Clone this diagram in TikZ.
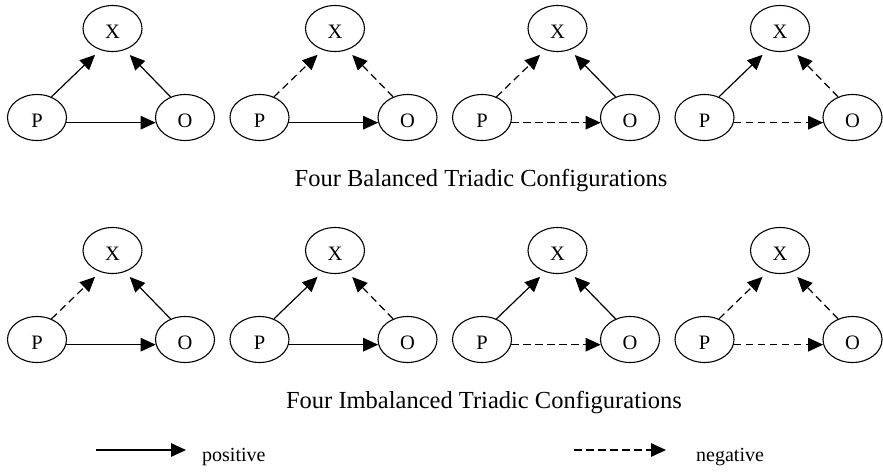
\documentclass[tikz,border=0pt]{standalone}
\usepackage{fontspec}
\setmainfont{Liberation Serif}
\usetikzlibrary{arrows.meta,shapes.geometric}
\tikzset{
  vert/.style={draw, ellipse, line width=1.1pt, minimum width=59pt, minimum height=46pt,
    inner sep=0pt, font=\fontsize{20.5}{20.5}\selectfont, text height=19.5pt, text depth=0pt},
  posline/.style={line width=1.2pt, -{Triangle[length=15pt,width=13.5pt]}},
  negline/.style={posline, dash pattern=on 7.5pt off 4.5pt},
  captext/.style={anchor=base, inner sep=0pt, font=\fontsize{24.5}{24.5}\selectfont},
  legtext/.style={anchor=base west, inner sep=0pt, font=\fontsize{20}{20}\selectfont}
}
\newcommand\mytriad[6]{%
  \node[vert] (#1X) at (#2+75.5, #3+28.5) {X};
  \node[vert] (#1P) at (#2, #3+117.5) {P};
  \node[vert] (#1O) at (#2+148, #3+117.5) {O};
  \draw[#4, shorten >=7pt] (#1P.55) -- (#1X.240);
  \draw[#5, shorten >=7pt] (#1O.125) -- (#1X.300);
  \draw[#6] (#1P.-10) -- (#1O.190);
}
\begin{document}
\begin{tikzpicture}[x=1pt, y=-1pt]
\useasboundingbox (0,0) rectangle (883,471);
% balanced
\mytriad{a}{37}{0}{posline}{posline}{posline}
\mytriad{b}{259.5}{0}{negline}{negline}{posline}
\mytriad{c}{482}{0}{negline}{posline}{negline}
\mytriad{d}{704.5}{0}{posline}{negline}{negline}
% imbalanced
\mytriad{e}{37}{222}{negline}{posline}{posline}
\mytriad{f}{259.5}{222}{posline}{negline}{posline}
\mytriad{g}{482}{222}{posline}{posline}{negline}
\mytriad{h}{704.5}{222}{negline}{negline}{negline}
\node[captext] (cap1) at (481,186) {Four Balanced Triadic Configurations};
\node[captext] (cap2) at (484,408) {Four Imbalanced Triadic Configurations};
% legend
\coordinate (ps) at (96,450);
\coordinate (pe) at (186,450);
\draw[posline] (ps) -- (pe);
\node[legtext] (ptext) at (202,461) {positive};
\coordinate (ns) at (574,450);
\coordinate (ne) at (666,450);
\draw[negline] (ns) -- (ne);
\node[legtext] (ntext) at (696,461) {negative};
\end{tikzpicture}
\end{document}
